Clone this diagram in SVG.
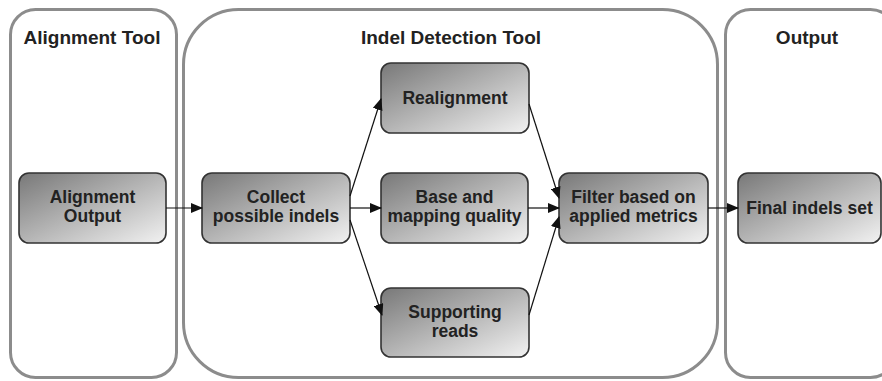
<svg xmlns="http://www.w3.org/2000/svg" width="882" height="381" viewBox="0 0 882 381">
<defs>
<linearGradient id="g" x1="0" y1="0" x2="1" y2="1">
<stop offset="0" stop-color="#787878"/>
<stop offset="1" stop-color="#f2f2f2"/>
</linearGradient>
<marker id="arr" markerWidth="12" markerHeight="10" refX="11" refY="5" orient="auto" markerUnits="userSpaceOnUse">
<path d="M0,0 L12,5 L0,10 Z" fill="#111"/>
</marker>
</defs>
<style>
.lane{fill:#fff;stroke:#8c8c8c;stroke-width:3}
.node rect{fill:url(#g);stroke:#333;stroke-width:1.6}
text{font-family:"Liberation Sans",Arial,sans-serif;font-weight:bold;fill:#222;text-anchor:middle}
.t{font-size:19px}
.n{font-size:17.5px}
.c line{stroke:#111;stroke-width:1.2;marker-end:url(#arr)}
</style>
<rect width="882" height="381" fill="#fff"/>
<g id="lane-alignment">
<rect class="lane" x="10.5" y="9.5" width="166" height="368" rx="25"/>
<text class="t" x="92" y="44">Alignment Tool</text>
</g>
<g id="lane-indel">
<rect class="lane" x="183.5" y="9.5" width="534" height="368" rx="55"/>
<text class="t" x="451" y="44">Indel Detection Tool</text>
</g>
<g id="lane-output">
<rect class="lane" x="725.5" y="9.5" width="170" height="368" rx="25"/>
<text class="t" x="807" y="44">Output</text>
</g>
<g id="node-alignment-output" class="node">
<rect x="19" y="173" width="147" height="70" rx="10"/>
<text class="n" x="92.5" y="203">Alignment</text>
<text class="n" x="92.5" y="222">Output</text>
</g>
<g id="node-collect" class="node">
<rect x="202" y="173" width="148" height="70" rx="10"/>
<text class="n" x="276" y="203">Collect</text>
<text class="n" x="276" y="222">possible indels</text>
</g>
<g id="node-realignment" class="node">
<rect x="381" y="63" width="148" height="70" rx="10"/>
<text class="n" x="455" y="104">Realignment</text>
</g>
<g id="node-base" class="node">
<rect x="381" y="173" width="147" height="70" rx="10"/>
<text class="n" x="454.5" y="203">Base and</text>
<text class="n" x="454.5" y="222">mapping quality</text>
</g>
<g id="node-supporting" class="node">
<rect x="381" y="288" width="148" height="69" rx="10"/>
<text class="n" x="455" y="318">Supporting</text>
<text class="n" x="455" y="337">reads</text>
</g>
<g id="node-filter" class="node">
<rect x="559" y="173" width="149" height="70" rx="10"/>
<text class="n" x="633.5" y="203">Filter based on</text>
<text class="n" x="633.5" y="222">applied metrics</text>
</g>
<g id="node-final" class="node">
<rect x="738" y="173" width="143" height="70" rx="10"/>
<text class="n" x="809.5" y="214">Final indels set</text>
</g>
<g id="connectors" class="c">
<line x1="166" y1="208" x2="202" y2="208"/>
<line x1="350" y1="196" x2="381" y2="99"/>
<line x1="350" y1="208" x2="381" y2="208"/>
<line x1="350" y1="220" x2="382" y2="315"/>
<line x1="529" y1="104" x2="559" y2="198"/>
<line x1="528" y1="208" x2="559" y2="208"/>
<line x1="529" y1="315" x2="559" y2="217"/>
<line x1="708" y1="208" x2="738" y2="208"/>
</g>
</svg>
